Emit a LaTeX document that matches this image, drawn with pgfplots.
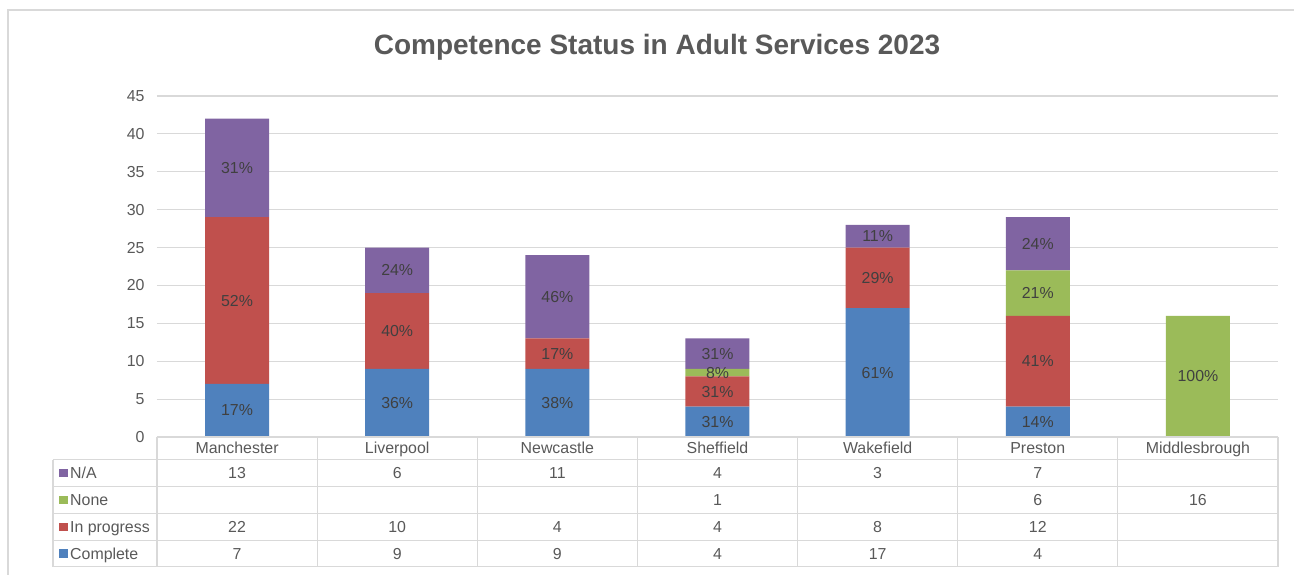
\documentclass[border=0pt]{standalone}
\usepackage{fontspec}
\setmainfont{Liberation Sans}
\usepackage{pgfplots}
\usepackage{pgfplotstable}
\pgfplotsset{compat=1.18}
\definecolor{cC}{HTML}{4F81BD}
\definecolor{cI}{HTML}{C0504D}
\definecolor{cN}{HTML}{9BBB59}
\definecolor{cA}{HTML}{8064A2}
\definecolor{gridc}{HTML}{D9D9D9}
\definecolor{txt}{HTML}{595959}
\definecolor{lbl}{HTML}{404040}
\newcommand\fs{\fontsize{15.9}{18}\selectfont}

\pgfplotstableread{
x cat C I No NA
0 Manchester 7 22 0 13
1 Liverpool 9 10 0 6
2 Newcastle 9 4 0 11
3 Sheffield 4 4 1 4
4 Wakefield 17 8 0 3
5 Preston 4 12 6 7
6 Middlesbrough 0 0 16 0
}\data

\begin{document}
\begin{tikzpicture}
\useasboundingbox (-157pt,-137pt) rectangle (1137pt,437pt);
\draw[gridc, line width=1.2pt] (-149pt,-140pt) -- (-149pt,427pt) -- (1140pt,427pt);
\begin{axis}[at={(0pt,0pt)}, anchor=south west, scale only axis,
  width=1121pt, height=341pt,
  xmin=-0.5, xmax=6.5, ymin=0, ymax=45,
  ybar stacked, bar width=64pt,
  ytick={0,5,...,45},
  xtick={0,...,6},
  xticklabels={Manchester,Liverpool,Newcastle,Sheffield,Wakefield,Preston,Middlesbrough},
  major tick length=0pt,
  axis line style={draw=none},
  ymajorgrids, grid style={gridc, line width=1.2pt},
  tick label style={font=\fs, text=txt},
  yticklabel style={xshift=-9pt},
  xticklabel style={anchor=base, yshift=-16.8pt, inner sep=0pt},
  /pgf/number format/assume math mode=true,
  clip=false]
\addplot[fill=cC, draw=none] table[x=x,y=C]{\data};
\addplot[fill=cI, draw=none] table[x=x,y=I]{\data};
\addplot[fill=cN, draw=none] table[x=x,y=No]{\data};
\addplot[fill=cA, draw=none] table[x=x,y=NA]{\data};
\end{axis}
\begin{axis}[at={(0pt,0pt)}, anchor=south west, scale only axis,
  width=1121pt, height=341pt,
  xmin=-0.5, xmax=6.5, ymin=0, ymax=45, hide axis, clip=false,
  nodes near coords, point meta=explicit symbolic,
  every node near coord/.style={anchor=center, font=\fs, text=lbl, inner sep=0pt}]
\addplot[draw=none, mark=none] coordinates {(0,3.5)[17\%] (1,4.5)[36\%] (2,4.5)[38\%] (3,2)[31\%] (4,8.5)[61\%] (5,2)[14\%]};
\addplot[draw=none, mark=none] coordinates {(0,18)[52\%] (1,14)[40\%] (2,11)[17\%] (3,6)[31\%] (4,21)[29\%] (5,10)[41\%]};
\addplot[draw=none, mark=none] coordinates {(3,8.5)[8\%] (5,19)[21\%] (6,8)[100\%]};
\addplot[draw=none, mark=none] coordinates {(0,35.5)[31\%] (1,22)[24\%] (2,18.5)[46\%] (3,11)[31\%] (4,26.5)[11\%] (5,25.5)[24\%]};
\end{axis}
% data table
\begin{scope}[gridc, line width=1.2pt]
\draw (0pt,0pt) -- (1121pt,0pt);
\foreach \yy in {-22.5,-49.5,-76.5,-103.5,-129.5}{\draw (-104pt,\yy pt) -- (1121pt,\yy pt);}
\foreach \k in {0,...,7}{\draw ({\k*160.1429pt},0pt) -- ({\k*160.1429pt},-129.5pt);}
\draw (-104pt,-22.5pt) -- (-104pt,-129.5pt);
\end{scope}
\fill[cA] (-98pt,-40pt) rectangle (-89pt,-31.5pt);
\fill[cN] (-98pt,-67pt) rectangle (-89pt,-58.5pt);
\fill[cI] (-98pt,-94pt) rectangle (-89pt,-85.5pt);
\fill[cC] (-98pt,-120.5pt) rectangle (-89pt,-112pt);
\tikzset{tb/.style={font=\fs, text=txt, inner sep=0pt, anchor=base}}
\node[tb, anchor=base west] at (-87pt,-41.8pt) {N/A};
\node[tb, anchor=base west] at (-87pt,-68.8pt) {None};
\node[tb, anchor=base west] at (-87pt,-95.8pt) {In progress};
\node[tb, anchor=base west] at (-87pt,-122.3pt) {Complete};
\foreach \r in {0,...,6}{
  \pgfplotstablegetelem{\r}{NA}\of\data
  \ifnum\pgfplotsretval>0 \node[tb] at ({(\r+0.5)*160.1429pt},-41.8pt) {\pgfplotsretval};\fi
  \pgfplotstablegetelem{\r}{No}\of\data
  \ifnum\pgfplotsretval>0 \node[tb] at ({(\r+0.5)*160.1429pt},-68.8pt) {\pgfplotsretval};\fi
  \pgfplotstablegetelem{\r}{I}\of\data
  \ifnum\pgfplotsretval>0 \node[tb] at ({(\r+0.5)*160.1429pt},-95.8pt) {\pgfplotsretval};\fi
  \pgfplotstablegetelem{\r}{C}\of\data
  \ifnum\pgfplotsretval>0 \node[tb] at ({(\r+0.5)*160.1429pt},-122.3pt) {\pgfplotsretval};\fi
}
\node[font=\fontsize{28}{32}\selectfont\bfseries, text=txt, anchor=base, inner sep=0pt] at (500pt,382pt) {Competence Status in Adult Services 2023};
\end{tikzpicture}
\end{document}
